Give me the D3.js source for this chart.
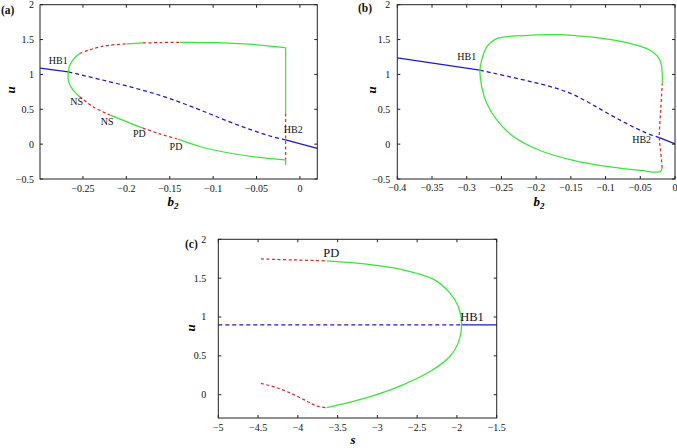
<!DOCTYPE html>
<html><head><meta charset="utf-8">
<script src="https://cdn.jsdelivr.net/npm/d3@7"></script>
<style>
html,body{margin:0;padding:0;background:#fff;}
svg{display:block;}
svg text{font-family:"Liberation Serif","DejaVu Serif",serif;}
</style></head>
<body>
<svg id="chart" width="677" height="448"></svg>
<script>
// ---------------- DATA ----------------
// Panel (a): parameter b2
const aXTicks = [-0.25, -0.2, -0.15, -0.1, -0.05, 0];
const aYTicks = [-0.5, 0, 0.5, 1, 1.5, 2];
const aEqStableLeft  = [[-0.2995,1.09],[-0.2668,1.037]];
const aEqUnstable    = [[-0.2668,1.037],[-0.231,0.93],[-0.192,0.81],[-0.154,0.67],[-0.115,0.49],[-0.077,0.30],[-0.038,0.13],[-0.0165,0.06]];
const aEqStableRight = [[-0.0165,0.06],[0.02,-0.06]];
const aUpperStable1   = [[-0.2668,1.037],[-0.2655,1.12],[-0.2625,1.19],[-0.2585,1.25],[-0.2538,1.30]];
const aUpperUnstable1 = [[-0.2538,1.30],[-0.242,1.355],[-0.2308,1.394],[-0.22,1.418],[-0.2,1.438]];
const aUpperStable2   = [[-0.2,1.438],[-0.19,1.446],[-0.1808,1.451]];
const aUpperUnstable2 = [[-0.1808,1.451],[-0.16,1.457],[-0.1385,1.461]];
const aUpperStable3   = [[-0.1385,1.461],[-0.0961,1.457],[-0.0577,1.433],[-0.0173,1.386]];
const aLowerStable1   = [[-0.2668,1.037],[-0.2672,0.95],[-0.2655,0.86],[-0.261,0.77],[-0.2538,0.68]];
const aLowerUnstable1 = [[-0.2538,0.68],[-0.2385,0.537],[-0.2192,0.419]];
const aLowerStable2   = [[-0.2192,0.419],[-0.2,0.323],[-0.1808,0.229]];
const aLowerUnstable2 = [[-0.1808,0.229],[-0.1615,0.147],[-0.1404,0.071]];
const aLowerStable3   = [[-0.1404,0.071],[-0.1154,-0.034],[-0.0846,-0.12],[-0.05,-0.186],[-0.0173,-0.224]];
const aVertStable1    = [[-0.0165,1.39],[-0.0165,0.44]];
const aVertUnstable   = [[-0.0165,0.44],[-0.0165,-0.224]];
const aVertStable2    = [[-0.0165,-0.224],[-0.0165,-0.30]];
const aLabels = [["HB1",-0.2784,1.204],["NS",-0.2572,0.609],["NS",-0.222,0.323],["PD",-0.1851,0.157],["PD",-0.1428,-0.034],["HB2",-0.0077,0.204]];

// Panel (b)
const bXTicks = [-0.4, -0.35, -0.3, -0.25, -0.2, -0.15, -0.1, -0.05, 0];
const bYTicks = [-0.5, 0, 0.5, 1, 1.5, 2];
const bEqStableLeft  = [[-0.4,1.237],[-0.281,1.061]];
const bEqUnstable    = [[-0.281,1.061],[-0.2424,0.976],[-0.1945,0.865],[-0.1465,0.71],[-0.0984,0.45],[-0.0504,0.2],[-0.0226,0.094]];
const bEqStableRight = [[-0.0226,0.094],[0,0.004]];
const bCycleStable   = [[-0.0183,0.87],[-0.0216,1.204],[-0.036,1.347],[-0.0744,1.466],[-0.1224,1.537],[-0.1705,1.571],[-0.2185,1.557],[-0.2568,1.514],[-0.2712,1.394],[-0.2784,1.204],[-0.281,1.061],[-0.2784,0.823],[-0.2712,0.586],[-0.2568,0.347],[-0.2329,0.109],[-0.1945,-0.091],[-0.1465,-0.234],[-0.0984,-0.32],[-0.0504,-0.377],[-0.0215,-0.395],[-0.0185,-0.34]];
const bCycleUnstable = [[-0.0185,-0.34],[-0.0205,-0.12],[-0.0226,0.094],[-0.0205,0.5],[-0.0183,0.87]];
const bLabels = [["HB1",-0.3,1.251],["HB2",-0.048,0.061]];

// Panel (c): parameter s
const cXTicks = [-5, -4.5, -4, -3.5, -3, -2.5, -2, -1.5];
const cYTicks = [0, 0.5, 1, 1.5, 2];
const cEqUnstable = [[-5,0.9],[-1.94,0.9]];
const cEqStable   = [[-1.94,0.9],[-1.5,0.9]];
const cCycleStable = [[-3.637,1.722],[-3.134,1.679],[-2.716,1.615],[-2.297,1.487],[-2.087,1.308],[-1.983,1.136],[-1.94,0.901],[-1.983,0.667],[-2.087,0.495],[-2.297,0.324],[-2.716,0.11],[-3.134,-0.038],[-3.637,-0.167]];
const cUpperUnstable = [[-4.463,1.747],[-4.057,1.735],[-3.637,1.722]];
const cLowerUnstable = [[-4.463,0.145],[-4.266,0.09],[-4.057,0.004],[-3.889,-0.082],[-3.763,-0.146],[-3.637,-0.167]];
const cLabels = [["PD",-3.58,1.83],["HB1",-1.81,1.0]];

// ---------------- DRAWING ----------------
const svg = d3.select("#chart");
const BLUE = "#1a1acd", GREEN = "#38e638", RED = "#dd2a2a", AX = "#222";
const FONT = "'Liberation Serif','DejaVu Serif',serif";
const fmt = t => String(t).replace("-", "\u2212");

function panel(o) {
  const x = d3.scaleLinear().domain(o.xd).range([o.l, o.r]);
  const y = d3.scaleLinear().domain(o.yd).range([o.b, o.t]);
  const g = svg.append("g").attr("font-family", FONT);
  o.series.forEach(s => {
    const line = d3.line().x(d => x(d[0])).y(d => y(d[1]))
      .curve(s.smooth ? d3.curveNatural : d3.curveCatmullRom.alpha(0.5));
    g.append("path").attr("d", line(s.pts)).attr("fill", "none")
      .attr("stroke", s.c).attr("stroke-width", 1.25)
      .attr("stroke-dasharray", s.dash ? s.dash : null);
  });
  g.append("rect").attr("x", o.l).attr("y", o.t).attr("width", o.r - o.l).attr("height", o.b - o.t)
    .attr("fill", "none").attr("stroke", AX).attr("stroke-width", 1);
  o.xt.forEach(t => {
    const px = x(t);
    g.append("line").attr("x1", px).attr("x2", px).attr("y1", o.b).attr("y2", o.b - 3).attr("stroke", AX);
    g.append("line").attr("x1", px).attr("x2", px).attr("y1", o.t).attr("y2", o.t + 3).attr("stroke", AX);
    g.append("text").attr("x", px).attr("y", o.b + o.xlo).attr("text-anchor", "middle")
      .attr("dominant-baseline", "central").attr("font-size", 10).attr("fill", "#111").text(fmt(t));
  });
  o.yt.forEach(t => {
    const py = y(t);
    g.append("line").attr("x1", o.l).attr("x2", o.l + 3).attr("y1", py).attr("y2", py).attr("stroke", AX);
    g.append("line").attr("x1", o.r).attr("x2", o.r - 3).attr("y1", py).attr("y2", py).attr("stroke", AX);
    g.append("text").attr("x", o.l - o.ylo).attr("y", py).attr("text-anchor", "end")
      .attr("dominant-baseline", "central").attr("font-size", 10).attr("fill", "#111").text(fmt(t));
  });
  o.labels.forEach(d => {
    g.append("text").attr("x", x(d[1])).attr("y", y(d[2])).attr("text-anchor", "middle")
      .attr("dominant-baseline", "central").attr("font-size", o.lfs).attr("fill", "#111").text(d[0]);
  });
  g.append("text").attr("x", o.tag[1]).attr("y", o.tag[2]).attr("font-size", 11.5)
    .attr("font-weight", "bold").attr("fill", "#111").text(o.tag[0]);
  g.append("text").attr("transform", `translate(${o.ul[0]},${o.ul[1]}) rotate(-90)`)
    .attr("text-anchor", "middle").attr("dominant-baseline", "central")
    .attr("font-size", 13).attr("font-weight", "bold").attr("font-style", "italic").text("u");
  const xl = g.append("text").attr("x", o.xl[0]).attr("y", o.xl[1]).attr("text-anchor", "middle")
    .attr("font-size", 13).attr("font-weight", "bold").attr("font-style", "italic");
  xl.append("tspan").text(o.xlabel[0]);
  if (o.xlabel[1]) xl.append("tspan").attr("font-size", 9).attr("dy", 3).text(o.xlabel[1]);
}

const st = (pts, c) => ({pts, c});
const un = (pts, c, dash) => ({pts, c, dash: dash || "3,2.5"});
const eq = (pts, dashed) => ({pts, c: BLUE, dash: dashed ? "4,3" : null, smooth: true});

panel({
  l: 40, r: 317.3, t: 4.7, b: 179, xd: [-0.2995, 0.02], yd: [-0.5, 2],
  xt: aXTicks, yt: aYTicks, xlo: 9.5, ylo: 6, lfs: 10,
  tag: ["(a)", 1, 14], ul: [10, 90], xl: [173, 206], xlabel: ["b", "2"],
  labels: aLabels,
  series: [
    eq(aEqStableLeft), eq(aEqUnstable, true), eq(aEqStableRight),
    st(aUpperStable1, GREEN), un(aUpperUnstable1, RED), st(aUpperStable2, GREEN), un(aUpperUnstable2, RED), st(aUpperStable3, GREEN),
    st(aLowerStable1, GREEN), un(aLowerUnstable1, RED), st(aLowerStable2, GREEN), un(aLowerUnstable2, RED), st(aLowerStable3, GREEN),
    st(aVertStable1, GREEN), un(aVertUnstable, RED), st(aVertStable2, GREEN)
  ]
});

panel({
  l: 397.3, r: 675, t: 4.7, b: 179, xd: [-0.4, 0], yd: [-0.5, 2],
  xt: bXTicks, yt: bYTicks, xlo: 8, ylo: 7, lfs: 10,
  tag: ["(b)", 358, 12], ul: [371.7, 90], xl: [539, 206], xlabel: ["b", "2"],
  labels: bLabels,
  series: [
    eq(bEqStableLeft), eq(bEqUnstable, true), eq(bEqStableRight),
    st(bCycleStable, GREEN), un(bCycleUnstable, RED)
  ]
});

panel({
  l: 218.3, r: 496.7, t: 239.3, b: 418, xd: [-5, -1.5], yd: [-0.3, 2],
  xt: cXTicks, yt: cYTicks, xlo: 9.5, ylo: 12, lfs: 12.5,
  tag: ["(c)", 185, 248], ul: [190, 328], xl: [353, 444], xlabel: ["s"],
  labels: cLabels,
  series: [
    eq(cEqUnstable, true), eq(cEqStable),
    st(cCycleStable, GREEN), un(cUpperUnstable, RED), un(cLowerUnstable, RED)
  ]
});
</script>
</body></html>
